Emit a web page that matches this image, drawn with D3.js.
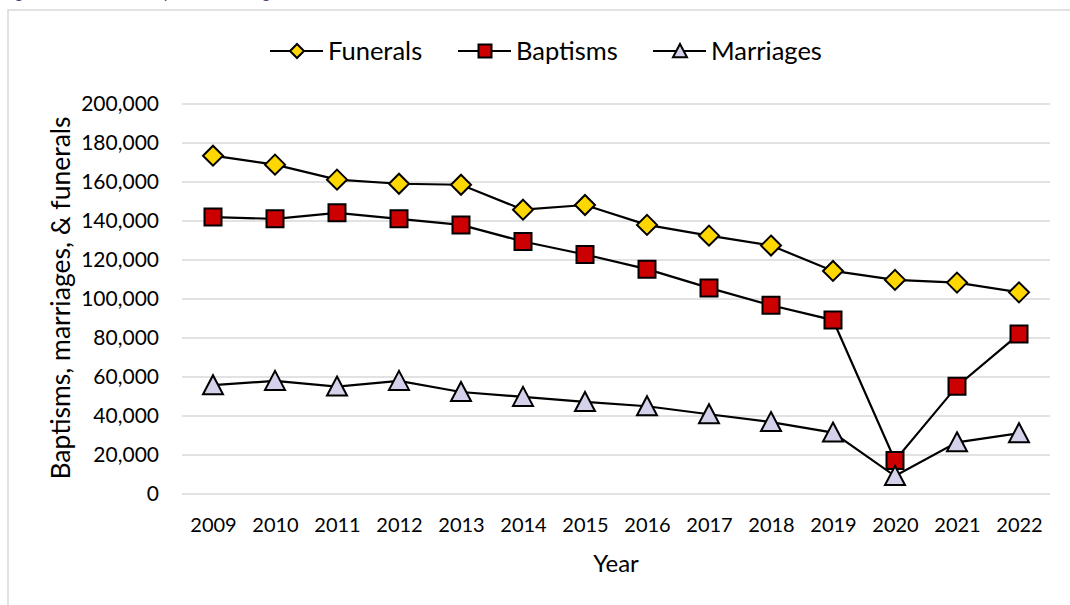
<!DOCTYPE html>
<html>
<head>
<meta charset="utf-8">
<script src="https://cdn.jsdelivr.net/npm/d3@7"></script>
<style>
    body { margin: 0; background: #fff; }
    svg { display: block; }
    svg text { font-family: Lato, "DejaVu Sans", sans-serif; fill: #000; }
</style>
</head>
<body>
<svg id="chart" width="1070" height="605"></svg>
<script>
// data
var years = ["2009", "2010", "2011", "2012", "2013", "2014", "2015", "2016", "2017", "2018", "2019", "2020", "2021", "2022"];
var funerals = [173500, 168900, 161200, 159100, 158600, 145800, 148200, 138000, 132500, 127400, 114400, 109800, 108400, 103400];
var baptisms = [142000, 141100, 144200, 141100, 138000, 129500, 122800, 115300, 105700, 96800, 89200, 17200, 55300, 82000];
var marriages = [55800, 58000, 55100, 58000, 52300, 49800, 47200, 45000, 40900, 36900, 31500, 9200, 26500, 31200];
var yTicks = [0, 20000, 40000, 60000, 80000, 100000, 120000, 140000, 160000, 180000, 200000];

var seriesNames = ["Funerals", "Baptisms", "Marriages"];
var seriesValues = [funerals, baptisms, marriages];
var seriesFill = ["#ffd700", "#cc0000", "#d4d1ea"];
var seriesShape = ["diamond", "square", "triangle"];

const svg = d3.select("#chart");

// outer frame (chart area border)
svg.append("rect")
    .attr("x", 8).attr("y", 10)
    .attr("width", 1080).attr("height", 620)
    .attr("fill", "#fff")
    .attr("stroke", "#d9d9d9")
    .attr("stroke-width", 1.5);

// title, cut off at the top of the picture (only descenders show)
svg.append("text")
    .attr("x", 2).attr("y", -2)
    .style("font-size", "16px")
    .style("fill", "#5b3f86")
    .text("Figure 1: Number of baptisms, marriages, and funerals, 2009–2022");

const margin = { top: 104, right: 20, bottom: 111, left: 182 };
const width = 1070, height = 605;

const x = d3.scalePoint()
    .domain(years)
    .range([margin.left, width - margin.right])
    .padding(0.5);

const y = d3.scaleLinear()
    .domain([0, 200000])
    .range([height - margin.bottom, margin.top]);

// gridlines
svg.append("g")
    .selectAll("line")
    .data(yTicks)
    .join("line")
    .attr("x1", margin.left)
    .attr("x2", width - margin.right)
    .attr("y1", d => y(d))
    .attr("y2", d => y(d))
    .attr("stroke", "#d9d9d9")
    .attr("stroke-width", 1.5);

// y axis labels
const yAxis = d3.axisLeft(y)
    .tickValues(yTicks)
    .tickFormat(d3.format(","))
    .tickSize(0)
    .tickPadding(23);

svg.append("g")
    .attr("transform", `translate(${margin.left},0)`)
    .call(yAxis)
    .call(g => g.select(".domain").remove())
    .selectAll("text")
    .style("font-size", "21px")
    .style("font-family", "Lato, sans-serif");

// x axis labels
const xAxis = d3.axisBottom(x).tickSize(0).tickPadding(24);

svg.append("g")
    .attr("transform", `translate(0,${height - margin.bottom})`)
    .call(xAxis)
    .call(g => g.select(".domain").remove())
    .selectAll("text")
    .style("font-size", "20px")
    .style("font-family", "Lato, sans-serif");

// axis titles
svg.append("text")
    .attr("transform", "translate(70,298) rotate(-90)")
    .attr("text-anchor", "middle")
    .style("font-size", "26.5px")
    .text("Baptisms, marriages, & funerals");

svg.append("text")
    .attr("x", (margin.left + width - margin.right) / 2)
    .attr("y", 572)
    .attr("text-anchor", "middle")
    .style("font-size", "24px")
    .text("Year");

// marker path for a shape, r is half width
function markerPath(shape, r) {
    if (shape == "diamond") {
        return `M0,${-r}L${r},0L0,${r}L${-r},0Z`;
    } else if (shape == "square") {
        return `M${-r},${-r}H${r}V${r}H${-r}Z`;
    }
    return `M0,${-r}L${r},${r * 0.9}L${-r},${r * 0.9}Z`;
}

const line = d3.line()
    .x((d, i) => x(years[i]))
    .y(d => y(d));

// draw every series: line, then markers
seriesValues.forEach(function (vals, s) {
    svg.append("path")
        .datum(vals)
        .attr("d", line)
        .attr("fill", "none")
        .attr("stroke", "#000")
        .attr("stroke-width", 2.2);

    var r = seriesShape[s] == "square" ? 8.5 : 10;
    svg.append("g")
        .selectAll("path")
        .data(vals)
        .join("path")
        .attr("transform", (d, i) => `translate(${x(years[i])},${y(d)})`)
        .attr("d", markerPath(seriesShape[s], r))
        .attr("fill", seriesFill[s])
        .attr("stroke", "#000")
        .attr("stroke-width", 2);
});

// legend
var legendX = [297, 485, 680];
const legend = svg.append("g")
    .selectAll("g")
    .data(seriesNames)
    .join("g")
    .attr("transform", (d, i) => `translate(${legendX[i]},51)`);

legend.append("line")
    .attr("x1", -27).attr("x2", 26)
    .attr("stroke", "#000")
    .attr("stroke-width", 2.2);

legend.append("path")
    .attr("d", (d, i) => markerPath(seriesShape[i], seriesShape[i] == "square" ? 6.5 : 7))
    .attr("fill", (d, i) => seriesFill[i])
    .attr("stroke", "#000")
    .attr("stroke-width", 2);

legend.append("text")
    .attr("x", 31)
    .attr("dy", "0.35em")
    .style("font-size", "25.5px")
    .text(d => d);
</script>
</body>
</html>
